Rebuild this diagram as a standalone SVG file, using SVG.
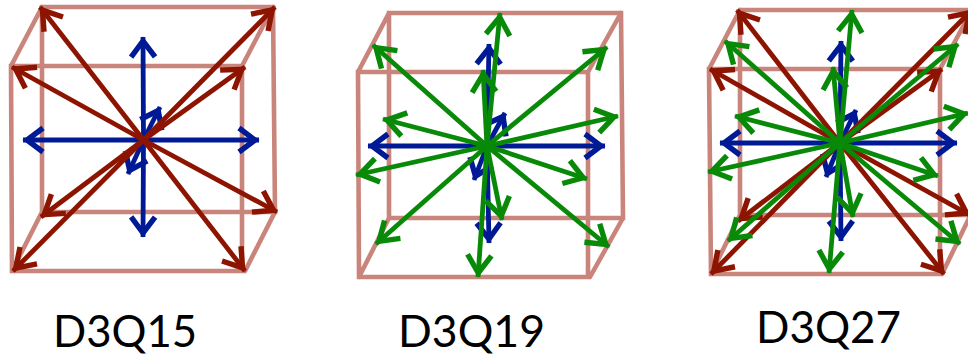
<svg xmlns="http://www.w3.org/2000/svg" width="968" height="356" viewBox="0 0 968 356">
<style>
.cube{fill:none;stroke:#a83a2c;stroke-opacity:.62;stroke-width:4.6;stroke-linecap:round}
.lbl{font-family:"Lato","Open Sans",sans-serif;font-size:45px;fill:#000}
.a{fill:none;stroke-width:4.8}
.b{stroke:#001a96;marker-end:url(#mb)}
.r{stroke:#8c1400;marker-end:url(#mr)}
.g{stroke:#088a08;marker-end:url(#mg)}
</style>
<defs>
<marker id="mb" markerUnits="userSpaceOnUse" markerWidth="30" markerHeight="30" refX="4" refY="15" orient="auto" overflow="visible"><path d="M-16,3 L0,15 L-16,27" fill="none" stroke="#001a96" stroke-width="5.4"/></marker>
<marker id="mr" markerUnits="userSpaceOnUse" markerWidth="30" markerHeight="30" refX="4" refY="15" orient="auto" overflow="visible"><path d="M-18,3 L0,15 L-18,27" fill="none" stroke="#8c1400" stroke-width="5.4"/></marker>
<marker id="mg" markerUnits="userSpaceOnUse" markerWidth="30" markerHeight="30" refX="4" refY="15" orient="auto" overflow="visible"><path d="M-18,3 L0,15 L-18,27" fill="none" stroke="#088a08" stroke-width="5.4"/></marker>
</defs>
<g id="d3q15">
<path class="cube" d="M42,7H273L275,212H42ZM11,66H242V271H12ZM11,66L42,7M242,66L273,7M12,271L42,212M245,271L275,212"/>
<text class="lbl" x="53" y="347" textLength="144" lengthAdjust="spacingAndGlyphs">D3Q15</text>
</g>
<g id="d3q19">
<path class="cube" d="M389,13H621L623,218H389ZM358,72H588V277H359ZM358,72L389,13M588,72L621,13M359,277L389,218M590,277L623,218"/>
<text class="lbl" x="398" y="347" textLength="147" lengthAdjust="spacingAndGlyphs">D3Q19</text>
</g>
<g id="d3q27">
<path class="cube" d="M740,10H975M740,10V215H970M709,69H940V274H711ZM709,69L740,10M940,69L972,10M711,274L740,215M942,274L972,212"/>
<text class="lbl" x="756" y="343" textLength="145" lengthAdjust="spacingAndGlyphs">D3Q27</text>
</g>
<g id="connectors" class="a">
<path class="b" d="M143.500,140L143,37"/><path class="b" d="M143.500,140L143,237"/><path class="b" d="M143.500,140L23,140"/><path class="b" d="M143.500,140L259,140"/><path class="b" d="M143.500,140L160,107"/><path class="b" d="M143.500,140L128,174"/>
<path class="r" d="M143.500,140L40,7"/><path class="r" d="M143.500,140L275,7"/><path class="r" d="M143.500,140L12,67"/><path class="r" d="M143.500,140L245,67"/><path class="r" d="M143.500,140L41,217"/><path class="r" d="M143.500,140L277,212"/><path class="r" d="M143.500,140L13,271"/><path class="r" d="M143.500,140L245,271"/>
<path class="b" d="M487,146L489,44"/><path class="b" d="M487,146L489,243"/><path class="b" d="M487,146L368,146"/><path class="b" d="M487,146L605,146"/><path class="b" d="M487,146L505,113"/><path class="b" d="M487,146L474,180"/>
<path class="g" d="M487,146L500,13"/><path class="g" d="M487,146L483,70"/><path class="g" d="M487,146L373,45"/><path class="g" d="M487,146L607,47"/><path class="g" d="M487,146L383,119"/><path class="g" d="M487,146L618,116"/><path class="g" d="M487,146L356,175"/><path class="g" d="M487,146L587,179"/><path class="g" d="M487,146L376,244"/><path class="g" d="M487,146L609,247"/><path class="g" d="M487,146L502,220"/><path class="g" d="M487,146L478,277"/>
<path class="b" d="M840,143L841,41"/><path class="b" d="M840,143L841,241"/><path class="b" d="M840,143L720,143"/><path class="b" d="M840,143L957,143"/><path class="b" d="M840,143L856,110"/><path class="b" d="M840,143L826,177"/>
<path class="r" d="M840,143L737,10"/><path class="r" d="M840,143L972,10"/><path class="r" d="M840,143L710,69"/><path class="r" d="M840,143L942,69"/><path class="r" d="M840,143L738,221"/><path class="r" d="M840,143L970,215"/><path class="r" d="M840,143L711,274"/><path class="r" d="M840,143L944,274"/>
<path class="g" d="M840,143L852,10"/><path class="g" d="M840,143L833,67"/><path class="g" d="M840,143L725,41"/><path class="g" d="M840,143L958,44"/><path class="g" d="M840,143L735,116"/><path class="g" d="M840,143L968,113"/><path class="g" d="M840,143L708,172"/><path class="g" d="M840,143L938,176"/><path class="g" d="M840,143L728,241"/><path class="g" d="M840,143L960,244"/><path class="g" d="M840,143L853,217"/><path class="g" d="M840,143L829,273"/>
</g>
</svg>
